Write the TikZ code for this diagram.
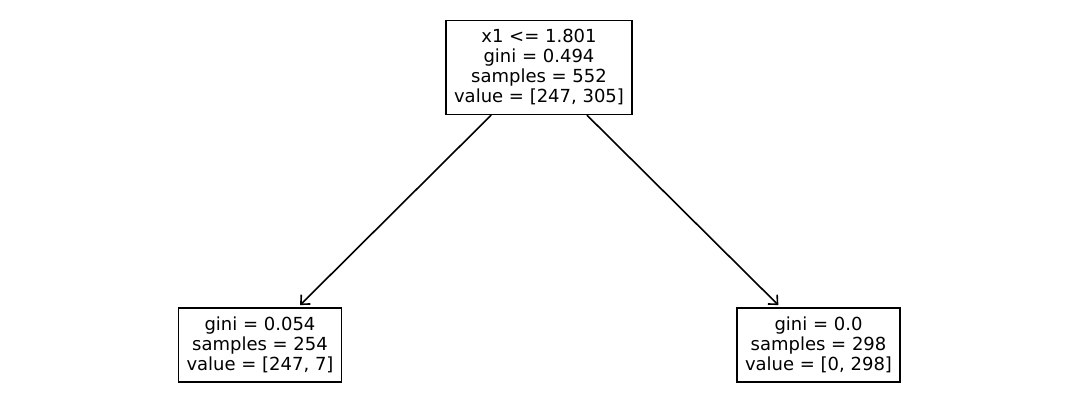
\documentclass[tikz,border=0pt]{standalone}
\usepackage{fontspec}
\setmainfont{DejaVu Sans}
\usepackage{tikz}
\usetikzlibrary{arrows.meta, positioning}
\tikzset{
  treenode/.style={rectangle, draw=black, fill=white, line width=0.75pt, align=center, font=\fontsize{9}{10}\selectfont, inner xsep=4pt, inner ysep=4.5pt},
  arrow/.style={-{Straight Barb[length=3.5pt, width=6.5pt, line width=0.8pt]}, line width=0.8pt, shorten >=1.5pt},
}
\begin{document}
\begin{tikzpicture}[x=0.5pt, y=-0.5pt]
\useasboundingbox (0,0) rectangle (1080,406);
\node (root)  [treenode] at (539,67.5) {x1 <= 1.801\\gini = 0.494\\samples = 552\\value = [247, 305]};
\node (left)  [treenode] at (260,345) {gini = 0.054\\samples = 254\\value = [247, 7]};
\node (right) [treenode] at (818.5,345) {gini = 0.0\\samples = 298\\value = [0, 298]};
\draw[arrow] (root) -- (left);
\draw[arrow] (root) -- (right);
\end{tikzpicture}
\end{document}
